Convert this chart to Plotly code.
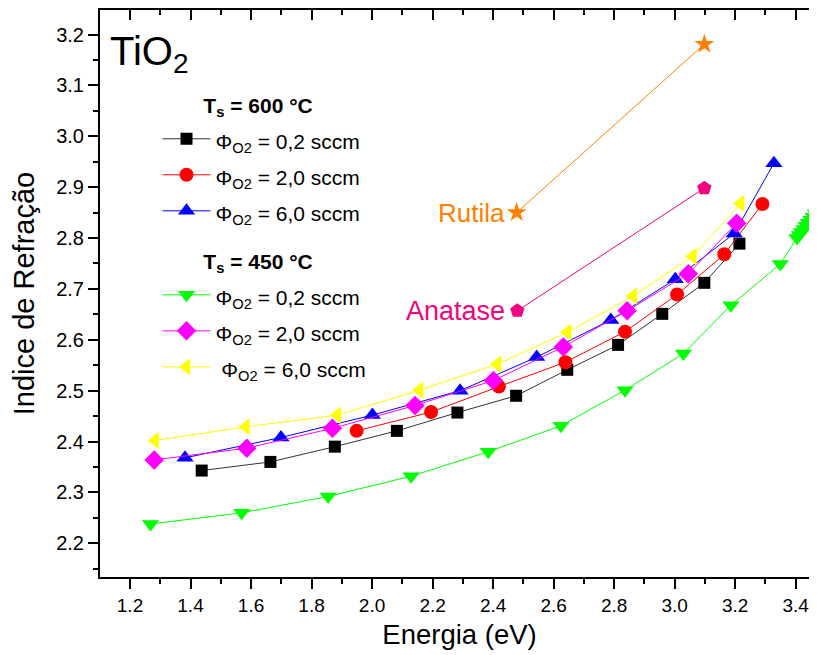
import plotly.graph_objects as go

# ---- data ----
x_600_02 = [1.437, 1.664, 1.877, 2.082, 2.282, 2.476, 2.645, 2.813, 2.959, 3.098, 3.214]
y_600_02 = [2.343, 2.360, 2.390, 2.421, 2.457, 2.490, 2.541, 2.590, 2.651, 2.712, 2.789]

x_600_20 = [1.949, 2.195, 2.419, 2.639, 2.836, 3.008, 3.164, 3.290]
y_600_20 = [2.421, 2.458, 2.508, 2.556, 2.616, 2.689, 2.768, 2.867]

x_600_60 = [1.382, 1.699, 2.001, 2.291, 2.544, 2.789, 3.002, 3.197, 3.328]
y_600_60 = [2.368, 2.408, 2.452, 2.500, 2.566, 2.639, 2.719, 2.809, 2.947]

x_450_02 = [1.268, 1.569, 1.855, 2.129, 2.384, 2.624, 2.836, 3.029, 3.186, 3.349,
            3.404, 3.412, 3.419, 3.427, 3.434, 3.442, 3.450, 3.457, 3.465, 3.472, 3.480]
y_450_02 = [2.238, 2.260, 2.292, 2.332, 2.380, 2.431, 2.501, 2.573, 2.668, 2.749,
            2.800, 2.806, 2.812, 2.818, 2.824, 2.830, 2.836, 2.842, 2.848, 2.854, 2.860]

x_450_20 = [1.280, 1.586, 1.869, 2.142, 2.401, 2.632, 2.843, 3.045, 3.205]
y_450_20 = [2.364, 2.387, 2.426, 2.471, 2.520, 2.586, 2.657, 2.730, 2.829]

x_450_60 = [1.283, 1.583, 1.885, 2.157, 2.414, 2.646, 2.863, 3.060, 3.218]
y_450_60 = [2.402, 2.429, 2.452, 2.501, 2.552, 2.615, 2.686, 2.764, 2.868]

x_rutila = [2.478, 3.098]
y_rutila = [2.850, 3.181]
x_anatase = [2.480, 3.098]
y_anatase = [2.657, 2.898]

x_range = [1.1009, 3.477]
y_range = [2.1338, 3.2482]

FONT = "Liberation Sans, Arial, sans-serif"


def entry(flow, pad=""):
    return ("<span style='font-size:21px'>" + pad + "Φ<sub>O2</sub> = " + flow + " sccm</span>")


def heading(temp):
    return ("<span style='font-size:21px'>" + "&nbsp;" * 7 +
            "<b>T<sub>s</sub> = " + temp + " °C</b></span>")


fig = go.Figure()

series = [
    (x_600_02, y_600_02, "#333333", "#000000", "square", 12, entry("0,2"), "g600", heading("600")),
    (x_600_20, y_600_20, "#FF0000", "#FF0000", "circle", 14, entry("2,0"), "g600", None),
    (x_600_60, y_600_60, "#0000FF", "#0000FF", "triangle-up", 15, entry("6,0"), "g600", None),
    (x_450_02, y_450_02, "#00FF00", "#00FF00", "triangle-down", 15, entry("0,2"), "g450", heading("450")),
    (x_450_20, y_450_20, "#FF00FF", "#FF00FF", "diamond", 15, entry("2,0"), "g450", None),
    (x_450_60, y_450_60, "#FFFF00", "#FFFF00", "triangle-left", 15, entry("6,0", "&nbsp;"), "g450", None),
]
for xs, ys, lc, mc, sym, sz, name, grp, gtitle in series:
    kw = {}
    if gtitle:
        kw["legendgrouptitle"] = dict(text=gtitle, font=dict(family=FONT, size=25.4, color="black"))
    fig.add_trace(go.Scatter(
        x=xs, y=ys, mode="lines+markers", name=name, legendgroup=grp,
        line=dict(color=lc, width=1),
        marker=dict(symbol=sym, size=sz, color=mc, line=dict(width=0)),
        **kw))

fig.add_trace(go.Scatter(x=x_rutila, y=y_rutila, mode="lines+markers", showlegend=False,
                         line=dict(color="#FF8000", width=1),
                         marker=dict(symbol="star", size=15, color="#FF8000")))
fig.add_trace(go.Scatter(x=x_anatase, y=y_anatase, mode="lines+markers", showlegend=False,
                         line=dict(color="#F0047F", width=1),
                         marker=dict(symbol="pentagon", size=15, color="#F0047F")))

# invisible trace to host the mirrored top/right axes
fig.add_trace(go.Scatter(x=[x_range[0]], y=[y_range[0]], xaxis="x2", yaxis="y2",
                         mode="markers", marker=dict(opacity=0), showlegend=False,
                         hoverinfo="skip"))

fig.add_annotation(x=x_rutila[0], y=y_rutila[0], text="Rutila", showarrow=False,
                   xanchor="right", yanchor="middle", xshift=-10,
                   font=dict(family=FONT, size=26, color="#FF8000"))
fig.add_annotation(x=x_anatase[0], y=y_anatase[0], text="Anatase", showarrow=False,
                   xanchor="right", yanchor="middle", xshift=-10,
                   font=dict(family=FONT, size=27, color="#F0047F"))
fig.add_annotation(xref="paper", yref="paper", x=0.0115, y=0.97, text="TiO<sub>2</sub>",
                   showarrow=False, xanchor="left", yanchor="top",
                   font=dict(family=FONT, size=40, color="black"))

axis_common = dict(showgrid=False, zeroline=False, linecolor="black", linewidth=2,
                   tickcolor="black", tickwidth=2, automargin=False)
fig.update_layout(
    width=817, height=655,
    margin=dict(l=92, r=6, t=2, b=86),
    paper_bgcolor="white", plot_bgcolor="white",
    font=dict(family=FONT, size=18, color="black"),
    xaxis=dict(range=x_range, dtick=0.2, tick0=1.2, tickformat=".1f",
               showline=True, ticks="outside", ticklen=10,
               minor=dict(ticks="outside", ticklen=5, dtick=0.1, tickcolor="black", tickwidth=2),
               tickfont=dict(size=19), title=dict(text="Energia (eV)", font=dict(size=27.5), standoff=10),
               **axis_common),
    yaxis=dict(range=y_range, dtick=0.1, tick0=2.2, tickformat=".1f",
               showline=True, ticks="outside", ticklen=10,
               minor=dict(ticks="outside", ticklen=5, dtick=0.05, tickcolor="black", tickwidth=2),
               tickfont=dict(size=20), title=dict(text="Indice de Refração", font=dict(size=29), standoff=14),
               **axis_common),
    xaxis2=dict(range=x_range, dtick=0.2, tick0=1.2, overlaying="x", side="top", anchor="y",
                showline=True, ticks="inside", ticklen=10, showticklabels=False,
                minor=dict(ticks="inside", ticklen=5, dtick=0.1, tickcolor="black", tickwidth=2),
                **axis_common),
    yaxis2=dict(range=y_range, dtick=0.1, tick0=2.2, overlaying="y", side="right", anchor="x",
                showline=False, ticks="inside", ticklen=6, showticklabels=False,
                **axis_common),
    legend=dict(x=0.08, y=0.877, xanchor="left", yanchor="top", bgcolor="rgba(0,0,0,0)",
                font=dict(family=FONT, size=25.4), tracegroupgap=12, itemwidth=48),
    showlegend=True,
)

fig.write_html("out.html")
